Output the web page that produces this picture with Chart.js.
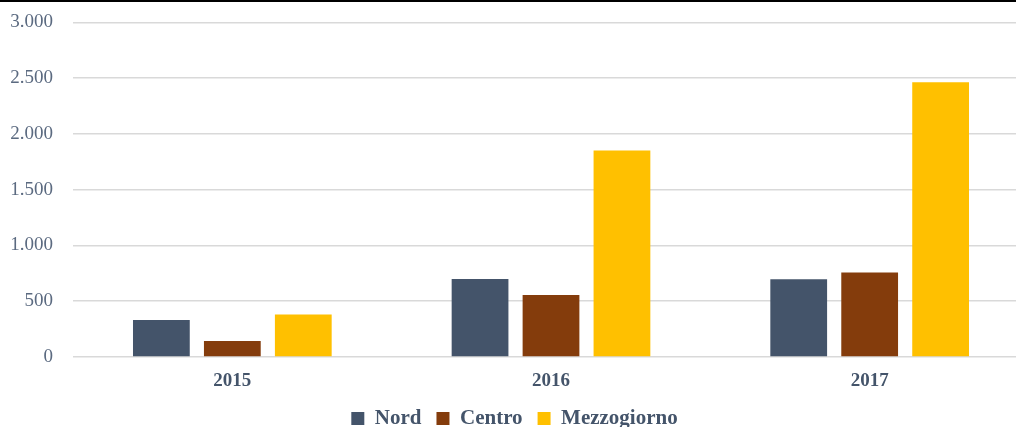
<!DOCTYPE html>
<html lang="it">
<head>
<meta charset="utf-8">
<script src="https://cdn.jsdelivr.net/npm/chart.js@4/dist/chart.umd.min.js"></script>
<style>
  html, body { margin: 0; padding: 0; background: #fff; overflow: hidden; }
  #wrap { position: relative; width: 1038px; height: 427px; border-top: 2px solid #000; box-sizing: border-box; overflow: hidden; }
  canvas { display: block; margin-top: -11px; }
</style>
</head>
<body>
<div id="wrap"><canvas id="chart" width="1038" height="448"></canvas></div>
<script>
// Anni e valori per ripartizione territoriale
const anni = ['2015', '2016', '2017'];
const nord = [332, 700, 698];
const centro = [144, 557, 757];
const mezzogiorno = [380, 1851, 2464];
const tickValori = [0, 500, 1000, 1500, 2000, 2500, 3000];

const coloreTesto = '#44546A';
const fontSerif = "'Liberation Serif', 'DejaVu Serif', serif";

const formatoIt = v => v.toLocaleString('it-IT');

new Chart(document.getElementById('chart'), {
  type: 'bar',
  data: {
    labels: anni,
    datasets: [
      { label: 'Nord', data: nord, backgroundColor: '#44546A' },
      { label: 'Centro', data: centro, backgroundColor: '#843C0C' },
      { label: 'Mezzogiorno', data: mezzogiorno, backgroundColor: '#FFC000' }
    ]
  },
  options: {
    responsive: false,
    animation: false,
    devicePixelRatio: 1,
    categoryPercentage: 0.668,
    barPercentage: 0.80,
    layout: { padding: { top: 3, right: 9, left: 0, bottom: 0 } },
    plugins: {
      tooltip: { enabled: false },
      legend: {
        position: 'bottom',
        labels: {
          boxWidth: 13,
          boxHeight: 13,
          padding: 15,
          color: coloreTesto,
          font: { family: fontSerif, size: 21, weight: 'bold' }
        }
      }
    },
    scales: {
      x: {
        afterFit: s => { s.height = 36; },
        grid: { display: false, drawTicks: false },
        border: { display: false },
        ticks: {
          padding: 13,
          color: coloreTesto,
          font: { family: fontSerif, size: 19, weight: 'bold' }
        }
      },
      y: {
        min: 0,
        max: 3000,
        afterFit: s => { s.width = 73; },
        afterBuildTicks: s => { s.ticks = tickValori.map(v => ({ value: v })); },
        grid: { color: '#D9D9D9', lineWidth: 1.5, drawTicks: false },
        border: { display: false },
        ticks: {
          padding: 20,
          color: '#5B6A80',
          font: { family: fontSerif, size: 19 },
          callback: v => formatoIt(v)
        }
      }
    }
  }
});
</script>
</body>
</html>
